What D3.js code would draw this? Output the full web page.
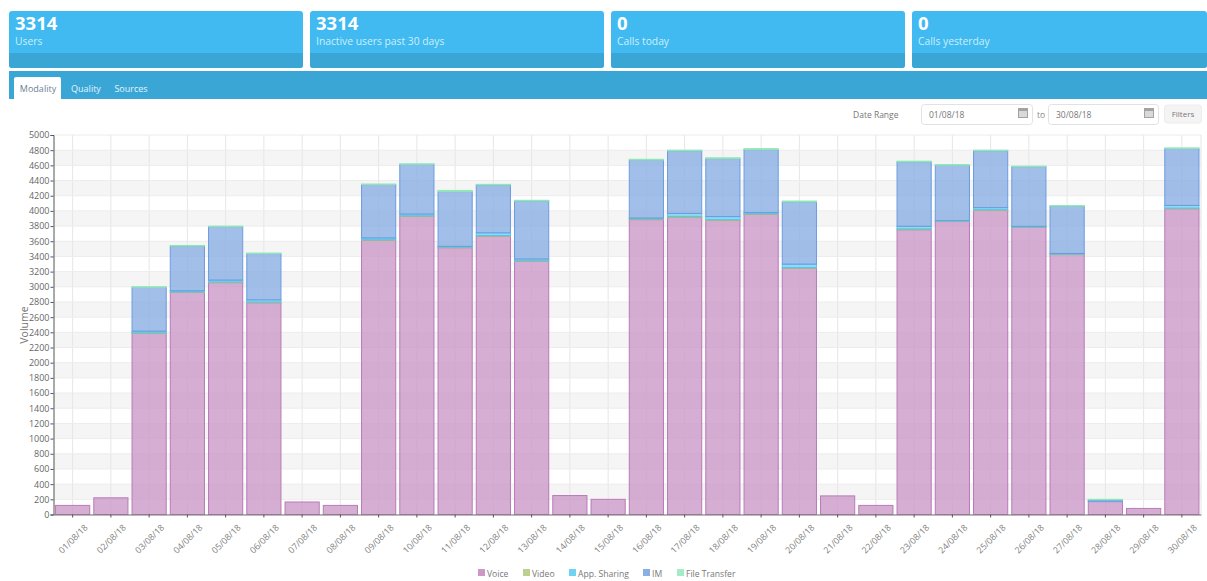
<!DOCTYPE html>
<html>
<head>
<meta charset="utf-8">
<script src="https://cdnjs.cloudflare.com/ajax/libs/d3/7.8.5/d3.min.js"></script>
<style>
html, body { margin: 0; padding: 0; background: #fff; overflow: hidden; }
text { font-family: "Open Sans", sans-serif; }
</style>
</head>
<body>
<svg id="chart" width="1207" height="581"></svg>
<script>
var days = ["01/08/18","02/08/18","03/08/18","04/08/18","05/08/18","06/08/18","07/08/18","08/08/18","09/08/18","10/08/18",
  "11/08/18","12/08/18","13/08/18","14/08/18","15/08/18","16/08/18","17/08/18","18/08/18","19/08/18","20/08/18",
  "21/08/18","22/08/18","23/08/18","24/08/18","25/08/18","26/08/18","27/08/18","28/08/18","29/08/18","30/08/18"];

var voice = [120,220,2385,2925,3055,2790,165,120,3612,3928,3515,3668,3338,250,200,3885,3915,3875,3955,3245,245,120,3752,3860,4007,3782,3425,170,80,4028];
var video = [0,0,8,8,8,8,0,0,8,8,8,8,6,0,0,10,12,10,8,8,0,0,10,6,8,6,6,0,0,8];
var appSharing = [0,0,22,15,25,30,0,0,23,22,10,35,22,0,0,10,40,40,15,45,0,0,35,6,28,8,8,5,0,36];
var im = [0,0,578,590,705,610,0,0,705,655,722,632,765,0,0,765,825,765,830,820,0,0,848,730,750,787,624,20,0,750];
var fileTransfer = [0,0,7,7,7,7,0,0,6,7,15,7,9,0,0,10,8,10,12,12,0,0,10,8,7,7,7,5,0,8];

var seriesNames = ["Voice","Video","App. Sharing","IM","File Transfer"];
var seriesColors = ["#cc98c8","#bcd08f","#72d2f2","#8aafe4","#a4ecc6"];
var seriesEdges = ["#b87cb8","#a5bd78","#58c4ee","#6d9ce0","#8fe6b8"];
var cards = [["3314","Users"],["3314","Inactive users past 30 days"],["0","Calls today"],["0","Calls yesterday"]];
var tabs = ["Modality","Quality","Sources"];
var yTicks = d3.range(0, 5001, 200);

var svg = d3.select("#chart");

// top cards
var cardX = [9, 310, 611, 912];
var cardW = [294, 294, 294, 295];
var card = svg.selectAll(".card").data(cards).enter().append("g")
  .attr("class", "card")
  .attr("transform", function(d, i) { return "translate(" + cardX[i] + ",11)"; });
card.append("rect").attr("width", function(d, i) { return cardW[i]; }).attr("height", 57).attr("rx", 3).attr("fill", "#40baf0");
card.append("path")
  .attr("d", function(d, i) { return "M0,42H" + cardW[i] + "V54a3,3 0 0 1 -3,3H3a3,3 0 0 1 -3,-3Z"; })
  .attr("fill", "#3aa6d6");
card.append("text").attr("x", 6).attr("y", 18.5).attr("fill", "#fff").style("font-size", "18.5px").style("font-weight", 700).text(function(d) { return d[0]; });
card.append("text").attr("x", 6).attr("y", 33.5).attr("fill", "#cfeefb").style("font-size", "10.3px").text(function(d) { return d[1]; });

// tab strip
svg.append("rect").attr("x", 9).attr("y", 71).attr("width", 1198).attr("height", 28).attr("fill", "#3aa6d6");
svg.append("path").attr("d", "M14,99V79a2,2 0 0 1 2,-2H59a2,2 0 0 1 2,2V99Z").attr("fill", "#fff");
var tabX = [38, 86, 131];
svg.selectAll(".tab").data(tabs).enter().append("text")
  .attr("class", "tab")
  .attr("x", function(d, i) { return tabX[i]; })
  .attr("y", 91.5)
  .attr("text-anchor", "middle")
  .attr("fill", function(d, i) { return i == 0 ? "#6d7f96" : "#e3f4fb"; })
  .style("font-size", "9px")
  .text(function(d) { return d; });

// date range controls
function addText(x, y, str, size, color, anchor) {
  return svg.append("text").attr("x", x).attr("y", y).attr("fill", color)
    .attr("text-anchor", anchor || "start").style("font-size", size + "px").text(str);
}
function addInput(x, w, str) {
  svg.append("rect").attr("x", x + 0.5).attr("y", 104.5).attr("width", w).attr("height", 20).attr("rx", 3)
    .attr("fill", "#fff").attr("stroke", "#e2e2e2");
  addText(x + 8, 118, str, 8.5, "#777");
  var icon = svg.append("g").attr("transform", "translate(" + (x + w - 14) + ",108)");
  icon.append("rect").attr("width", 10).attr("height", 10).attr("fill", "#a3a3a3");
  icon.append("rect").attr("x", 1).attr("y", 3).attr("width", 8).attr("height", 6).attr("fill", "#d9d9d9");
}
addText(853, 118, "Date Range", 8.5, "#777");
addInput(921, 111, "01/08/18");
addText(1037, 118, "to", 8.5, "#888");
addInput(1048, 110, "30/08/18");
svg.append("rect").attr("x", 1164.5).attr("y", 105).attr("width", 37).attr("height", 18).attr("rx", 3).attr("fill", "#f4f4f4").attr("stroke", "#ececec");
addText(1183, 117, "Filters", 8, "#777", "middle");

// chart
var margin = {left: 53.5, right: 6, top: 135, bottom: 66.5};
var x = d3.scaleBand().domain(days).range([margin.left, 1207 - margin.right]).paddingInner(0.08).paddingOuter(0.04);
var y = d3.scaleLinear().domain([0, 5000]).range([581 - margin.bottom, margin.top]);

var rows = days.map(function(d, i) {
  return {day: d, "Voice": voice[i], "Video": video[i], "App. Sharing": appSharing[i], "IM": im[i], "File Transfer": fileTransfer[i]};
});
var stacked = d3.stack().keys(seriesNames)(rows);

// alternating grey bands
var bandStarts = yTicks.filter(function(d, i) { return i % 2 == 1 && d < 5000; });
svg.append("g").selectAll("rect").data(bandStarts).enter().append("rect")
  .attr("x", margin.left).attr("width", 1207 - margin.right - margin.left)
  .attr("y", function(d) { return y(d + 200); })
  .attr("height", function(d) { return y(d) - y(d + 200); })
  .attr("fill", "#f5f5f5");

// grid lines
svg.append("g").selectAll("line").data(days).enter().append("line")
  .attr("x1", function(d) { return x(d) + x.bandwidth() / 2; })
  .attr("x2", function(d) { return x(d) + x.bandwidth() / 2; })
  .attr("y1", y(5000)).attr("y2", y(0)).attr("stroke", "#e6e6e6");
svg.append("g").selectAll("line").data(yTicks).enter().append("line")
  .attr("x1", margin.left).attr("x2", 1207 - margin.right)
  .attr("y1", function(d) { return y(d); }).attr("y2", function(d) { return y(d); })
  .attr("stroke", "#ececec");
svg.append("line").attr("x1", 1207 - margin.right).attr("x2", 1207 - margin.right).attr("y1", y(5000)).attr("y2", y(0)).attr("stroke", "#e6e6e6");

// bars
var layer = svg.append("g").selectAll("g").data(stacked).enter().append("g")
  .attr("fill", function(d, i) { return seriesColors[i]; })
  .attr("stroke", function(d, i) { return seriesEdges[i]; })
  .attr("fill-opacity", 0.8);
layer.selectAll("rect").data(function(d) { return d; }).enter().append("rect")
  .filter(function(d) { return d[1] > d[0]; })
  .attr("x", function(d) { return x(d.data.day) + 0.5; })
  .attr("width", x.bandwidth() - 1)
  .attr("y", function(d) { return y(d[1]); })
  .attr("height", function(d) { return y(d[0]) - y(d[1]); });

// axes
var yAxis = svg.append("g").attr("transform", "translate(" + margin.left + ",0)")
  .call(d3.axisLeft(y).tickValues(yTicks).tickFormat(d3.format("d")).tickSize(3).tickPadding(1));
yAxis.selectAll("text").attr("fill", "#666").style("font-size", "9px");
yAxis.selectAll("line").attr("stroke", "#555");
yAxis.select(".domain").attr("stroke", "#555");

var xAxis = svg.append("g").attr("transform", "translate(0," + y(0) + ")")
  .call(d3.axisBottom(x).tickSize(3).tickSizeOuter(0));
xAxis.select(".domain").attr("stroke", "#777");
xAxis.selectAll("line").attr("stroke", "#555");
xAxis.selectAll("text")
  .attr("fill", "#808080")
  .style("font-size", "8.8px")
  .attr("text-anchor", "end")
  .attr("transform", "translate(7,5) rotate(-45)");

svg.append("text").attr("transform", "translate(27.5,325) rotate(-90)")
  .attr("text-anchor", "middle").attr("fill", "#777").style("font-size", "10.5px").text("Volume");

// legend
var legendX = [478, 523, 569, 643, 677];
var legend = svg.selectAll(".legend").data(seriesNames).enter().append("g")
  .attr("class", "legend")
  .attr("transform", function(d, i) { return "translate(" + legendX[i] + ",569)"; });
legend.append("rect").attr("width", 7).attr("height", 7)
  .attr("fill", function(d, i) { return seriesColors[i]; });
legend.append("text").attr("x", 9).attr("y", 7.5).attr("fill", "#777").style("font-size", "8.6px").text(function(d) { return d; });
</script>
</body>
</html>
